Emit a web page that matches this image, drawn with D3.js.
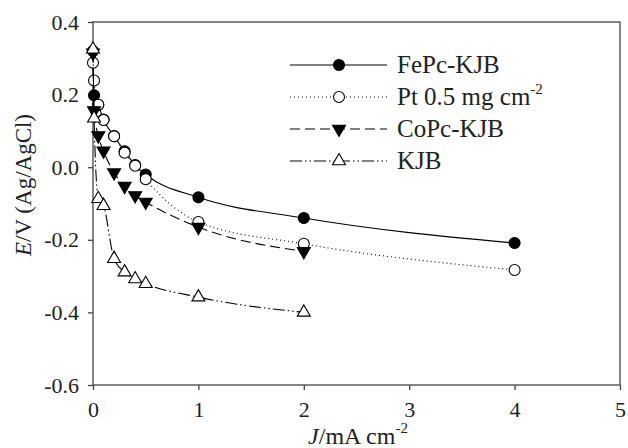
<!DOCTYPE html>
<html>
<head>
<meta charset="utf-8">
<script src="https://cdn.jsdelivr.net/npm/d3@7"></script>
<style>
  body { margin: 0; background: #fff; }
  svg text { font-family: "Liberation Serif", "Times New Roman", Times, "DejaVu Serif", serif; }
</style>
</head>
<body>
<svg width="628" height="448"></svg>
<script>
// current density J (mA cm-2) and potential E (V vs Ag/AgCl)
const fepcJ = [0, 0.01, 0.05, 0.1, 0.2, 0.3, 0.4, 0.5, 1, 2, 4];
const fepcE = [0.32, 0.198, 0.172, 0.131, 0.086, 0.044, 0.006, -0.02, -0.083, -0.14, -0.209];
const ptJ = [0, 0.01, 0.05, 0.1, 0.2, 0.3, 0.4, 0.5, 1, 2, 4];
const ptE = [0.288, 0.239, 0.172, 0.13, 0.085, 0.04, 0.004, -0.033, -0.151, -0.211, -0.283];
const copcJ = [0, 0.01, 0.05, 0.1, 0.2, 0.3, 0.4, 0.5, 1, 2];
const copcE = [0.315, 0.156, 0.087, 0.045, -0.015, -0.052, -0.078, -0.096, -0.165, -0.232];
const kjbJ = [0, 0.01, 0.05, 0.1, 0.2, 0.3, 0.4, 0.5, 1, 2];
const kjbE = [0.325, 0.135, -0.087, -0.106, -0.252, -0.289, -0.308, -0.321, -0.358, -0.4];

const seriesNames = ["FePc-KJB", "Pt 0.5 mg cm", "CoPc-KJB", "KJB"];
const xTicks = [0, 1, 2, 3, 4, 5];
const yTicks = [-0.6, -0.4, -0.2, 0.0, 0.2, 0.4];

const svg = d3.select("svg");
const plotL = 93, plotR = 620, plotT = 22, plotB = 385;
const axisColor = "#444";

const xScale = d3.scaleLinear().domain([0, 5]).range([plotL, plotR]);
const yScale = d3.scaleLinear().domain([-0.6, 0.4]).range([plotB, plotT]);

const series = [
  { name: seriesNames[0], J: fepcJ, E: fepcE, marker: "circle", fill: "#000", dash: null },
  { name: seriesNames[1], J: ptJ, E: ptE, marker: "circle", fill: "#fff", dash: "1,3" },
  { name: seriesNames[2], J: copcJ, E: copcE, marker: "down", fill: "#000", dash: "10,5" },
  { name: seriesNames[3], J: kjbJ, E: kjbE, marker: "up", fill: "#fff", dash: "12,3,1.5,3,1.5,3" }
];

// frame
svg.append("rect")
  .attr("x", plotL).attr("y", plotT)
  .attr("width", plotR - plotL).attr("height", plotB - plotT)
  .attr("fill", "none").attr("stroke", axisColor).attr("stroke-width", 1.3);

// axes
const xAxis = svg.append("g")
  .attr("transform", "translate(0," + plotB + ")")
  .call(d3.axisBottom(xScale).tickValues(xTicks).tickSize(5).tickSizeOuter(0).tickPadding(11)
    .tickFormat(d3.format("d")));
const yAxis = svg.append("g")
  .attr("transform", "translate(" + plotL + ",0)")
  .call(d3.axisLeft(yScale).tickValues(yTicks).tickSize(5).tickSizeOuter(0).tickPadding(9)
    .tickFormat((d) => d.toFixed(1)));
[xAxis, yAxis].forEach((g) => {
  g.attr("font-family", null).attr("font-size", null);
  g.select(".domain").remove();
  g.selectAll("line").attr("stroke", axisColor).attr("stroke-width", 1.3);
  g.selectAll("text")
    .style("font-size", "22px")
    .attr("fill", "#222");
});

// axis titles
const xt = svg.append("text")
  .attr("x", 358)
  .attr("y", 444)
  .attr("text-anchor", "middle")
  .style("font-size", "24px")
  .attr("fill", "#222");
xt.append("tspan").attr("font-style", "italic").text("J");
xt.append("tspan").text("/mA cm");
xt.append("tspan").attr("dy", -11).style("font-size", "15px").text("-2");

const yt = svg.append("text")
  .attr("transform", "translate(31," + 185 + ")rotate(-90)")
  .attr("text-anchor", "middle")
  .style("font-size", "23px")
  .attr("fill", "#222");
yt.append("tspan").attr("font-style", "italic").text("E");
yt.append("tspan").text("/V (Ag/AgCl)");

function drawMarker(g, type, fill, x, y) {
  if (type === "circle") {
    g.append("circle").attr("cx", x).attr("cy", y).attr("r", 5.5)
      .attr("fill", fill).attr("stroke", "#000").attr("stroke-width", 1.1);
  } else {
    const s = 6.5;
    const pts = type === "up"
      ? [[x - s, y + s * 0.58], [x + s, y + s * 0.58], [x, y - s * 1.15]]
      : [[x - s, y - s * 0.58], [x + s, y - s * 0.58], [x, y + s * 1.15]];
    g.append("polygon").attr("points", pts.map((p) => p.join(",")).join(" "))
      .attr("fill", fill).attr("stroke", "#000").attr("stroke-width", 1.1);
  }
}

const line = d3.line()
  .x((d) => xScale(d[0]))
  .y((d) => yScale(d[1]))
  .curve(d3.curveMonotoneX);

series.forEach((s) => {
  const pts = s.J.map((j, i) => [j, s.E[i]]);
  svg.append("path")
    .datum(pts)
    .attr("d", line)
    .attr("fill", "none")
    .attr("stroke", "#000")
    .attr("stroke-width", 1.1)
    .attr("stroke-dasharray", s.dash);
  const g = svg.append("g");
  pts.forEach((p) => drawMarker(g, s.marker, s.fill, xScale(p[0]), yScale(p[1])));
});

// legend
const legY = [65, 97, 129, 161];
series.forEach((s, i) => {
  const g = svg.append("g");
  g.append("line")
    .attr("x1", 290).attr("x2", 387)
    .attr("y1", legY[i]).attr("y2", legY[i])
    .attr("stroke", "#000").attr("stroke-width", 1.1)
    .attr("stroke-dasharray", s.dash);
  drawMarker(g, s.marker, s.fill, 339, legY[i]);
  const t = g.append("text")
    .attr("x", 397).attr("y", legY[i] + 8)
    .style("font-size", "25px")
    .attr("fill", "#222")
    .text(s.name);
  if (i === 1) {
    t.append("tspan").attr("dy", -11).style("font-size", "15px").text("-2");
  }
});
</script>
</body>
</html>
